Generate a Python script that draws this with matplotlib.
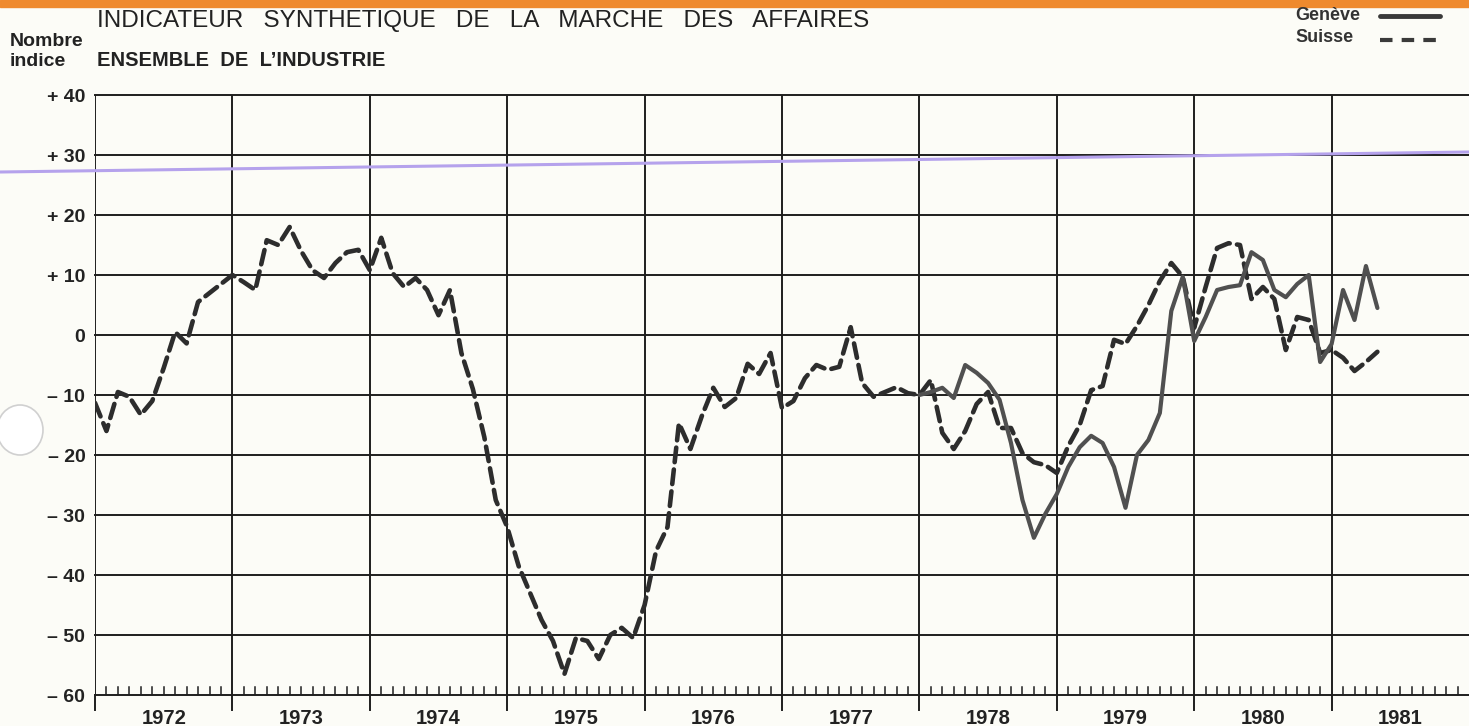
import matplotlib.pyplot as plt
from matplotlib.lines import Line2D
from matplotlib.patches import Ellipse, Rectangle

plt.rcParams["font.family"] = ["Liberation Sans", "DejaVu Sans"]

# months counted from January 1972 (0 = Jan 1972)
suisse_start = 0
suisse = [
    -11.3, -16.0, -9.5, -10.3, -13.3, -11.0, -5.5, 0.5, -1.4, 5.5, 7.0, 8.5,
    10.0, 8.8, 7.5, 15.8, 15.0, 18.0, 14.0, 10.8, 9.5, 12.0, 13.8, 14.2,
    10.8, 16.2, 10.3, 8.0, 9.5, 7.5, 3.3, 7.5, -3.0, -9.0, -17.0, -27.5,
    -32.0, -38.5, -43.0, -47.5, -51.0, -56.5, -50.5, -51.0, -54.0, -50.0, -48.8, -50.5,
    -45.0, -36.0, -32.0, -14.7, -19.0, -13.5, -8.8, -12.0, -10.5, -4.8, -6.5, -3.0,
    -12.2, -11.0, -7.2, -5.0, -5.8, -5.3, 1.3, -8.0, -10.3, -9.5, -8.7, -9.7,
    -10.0, -7.5, -16.3, -19.0, -16.0, -11.5, -9.5, -15.5, -15.5, -19.7, -21.2, -21.7,
    -23.0, -18.5, -15.0, -9.2, -8.5, -0.8, -1.5, 1.5, 5.0, 9.0, 12.0, 9.7,
    1.2, 8.0, 14.5, 15.3, 15.0, 6.0, 8.0, 6.0, -2.5, 3.0, 2.5, -3.0,
    -2.5, -3.8, -6.0, -4.5, -2.8,
]

geneve_start = 72
geneve = [
    -10.0, -9.5, -8.8, -10.5, -5.0, -6.3, -8.0, -10.8, -18.0, -27.5, -33.8, -29.8,
    -26.5, -22.0, -18.7, -16.8, -18.0, -22.0, -28.8, -20.0, -17.5, -13.0, 4.0, 9.7,
    -1.0, 3.0, 7.5, 8.0, 8.3, 13.8, 12.5, 7.5, 6.3, 8.5, 10.0, -4.5,
    -1.5, 7.5, 2.5, 11.5, 4.5,
]

years = list(range(1972, 1982))
y_ticks = [40, 30, 20, 10, 0, -10, -20, -30, -40, -50, -60]
y_labels = ["+ 40", "+ 30", "+ 20", "+ 10", "0", "– 10", "– 20", "– 30", "– 40", "– 50", "– 60"]

W, H = 1469, 726
paper = "#fcfcf7"
fig = plt.figure(figsize=(W / 100, H / 100), dpi=100)
fig.patch.set_facecolor(paper)

ax = fig.add_axes([95 / W, 31 / H, (W - 95) / W, 600 / H])
ax.set_facecolor(paper)
ax.set_xlim(0, 120)
ax.set_ylim(-60, 40)

ink = "#1e1e1e"
for v in y_ticks:
    ax.axhline(v, color=ink, linewidth=1.4, zorder=1, clip_on=False)
for i in range(len(years)):
    ax.axvline(12 * i, color=ink, linewidth=1.4, zorder=1)
    # year separator extends below the frame
    ax.plot([12 * i, 12 * i], [-60, -62.5], color=ink, linewidth=1.4, clip_on=False)
    ax.text(12 * i + 6, -63.9, str(years[i]), ha="center", va="center",
            fontsize=14.5, fontweight="bold", color="#222222")
    for m in range(1, 12):
        ax.plot([12 * i + m, 12 * i + m], [-60, -58.6], color=ink, linewidth=1.1)

for spine in ax.spines.values():
    spine.set_visible(False)
ax.set_xticks([])
ax.set_yticks(y_ticks)
ax.set_yticklabels(y_labels, fontsize=14, fontweight="bold", color="#222222")
ax.tick_params(axis="y", length=0, pad=7)

xs = [suisse_start + k for k in range(len(suisse))]
ax.plot(xs, suisse, color="#2d2d2d", linewidth=3.3, dashes=(3.2, 1.6),
        dash_capstyle="round", solid_joinstyle="round", zorder=3)
xg = [geneve_start + k for k in range(len(geneve))]
ax.plot(xg, geneve, color="#505050", linewidth=3.0, solid_joinstyle="round",
        solid_capstyle="round", zorder=4)

# headings
fig.text(97 / W, 1 - 21 / H, "INDICATEUR   SYNTHETIQUE   DE   LA   MARCHE   DES   AFFAIRES",
         fontsize=17.5, color="#222222", va="center", ha="left")
fig.text(97 / W, 1 - 60 / H, "ENSEMBLE  DE  L’INDUSTRIE", fontsize=14.5,
         fontweight="bold", color="#222222", va="center", ha="left")
fig.text(10 / W, 1 - 42 / H, "Nombre", fontsize=14, fontweight="bold",
         color="#222222", va="center", ha="left")
fig.text(10 / W, 1 - 61 / H, "indice", fontsize=14, fontweight="bold",
         color="#222222", va="center", ha="left")

# legend
fig.text(1295 / W, 1 - 16 / H, "Genève", fontsize=13, fontweight="bold",
         color="#333333", va="center", ha="left")
fig.text(1295 / W, 1 - 38 / H, "Suisse", fontsize=13, fontweight="bold",
         color="#333333", va="center", ha="left")
fig.add_artist(Line2D([1380 / W, 1440 / W], [1 - 16 / H, 1 - 16 / H],
                      color="#3a3a3a", linewidth=3.5, solid_capstyle="round"))
fig.add_artist(Line2D([1380 / W, 1440 / W], [1 - 40 / H, 1 - 40 / H],
                      color="#3a3a3a", linewidth=3.0, dashes=(3, 2.2)))

# scan artefacts: orange top band, violet stroke, punch hole
fig.add_artist(Rectangle((0, 1 - 7 / H), 1, 7 / H, color="#ef8a2e", zorder=0))
fig.add_artist(Line2D([0, 1], [1 - 172 / H, 1 - 152 / H], color="#b5a2ec",
                      linewidth=2.2, zorder=5))
fig.add_artist(Ellipse((20 / W, 1 - 430 / H), 46 / W, 50 / H, transform=fig.transFigure,
                       facecolor="#ffffff", edgecolor="#d0d0d0", linewidth=1.2))

fig.savefig("out.png", dpi=100, facecolor=fig.get_facecolor())
